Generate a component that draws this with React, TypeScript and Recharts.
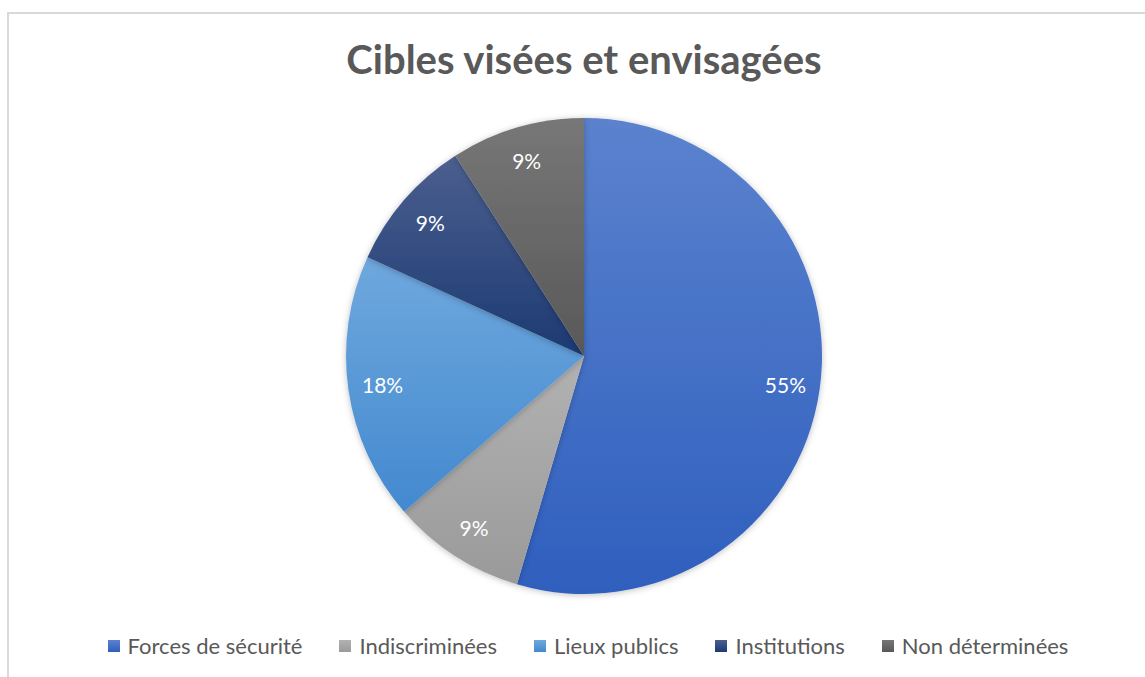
import { PieChart, Pie, Cell } from "recharts";

const categories = ["Forces de sécurité", "Indiscriminées", "Lieux publics", "Institutions", "Non déterminées"];
const counts = [6, 1, 2, 1, 1];
const percentLabels = ["55%", "9%", "18%", "9%", "9%"];

const GRAD = [
  ["#5B82CE", "#2F5FBE"],
  ["#B2B2B2", "#9A9A9A"],
  ["#6FA8DE", "#4389CF"],
  ["#4B5F8F", "#1C3A72"],
  ["#777777", "#585858"],
];

const data = categories.map((name, i) => ({ name, value: counts[i], label: percentLabels[i] }));

const FONT = "Lato, 'Open Sans', sans-serif";
const RAD = Math.PI / 180;

function SliceLabel(props: any) {
  const { cx, cy, midAngle, outerRadius, index } = props;
  const r = outerRadius * 0.855;
  const x = cx + r * Math.cos(-midAngle * RAD);
  const y = cy + r * Math.sin(-midAngle * RAD);
  return (
    <text x={x} y={y} fill="#fff" fontSize={21} fontFamily={FONT} textAnchor="middle" dominantBaseline="central">
      {data[index].label}
    </text>
  );
}

function LegendBox() {
  return (
    <div style={{ display: "flex", justifyContent: "center", gap: 37, fontFamily: FONT, fontSize: 22, color: "#595959" }}>
      {data.map((d, i) => (
        <div key={i} style={{ display: "flex", alignItems: "center", gap: 8 }}>
          <div style={{ width: 12, height: 12, background: `linear-gradient(${GRAD[i][0]}, ${GRAD[i][1]})` }} />
          {d.name}
        </div>
      ))}
    </div>
  );
}

export default function App() {
  return (
    <div style={{ position: "absolute", left: 0, top: 0, width: 1145, height: 677, overflow: "hidden", background: "#fff" }}>
      <div style={{ position: "absolute", left: 7, top: 12, width: 1200, height: 720, border: "2px solid #D9D9D9" }} />
      <div style={{ position: "absolute", left: 0, width: 1168, top: 35, textAlign: "center", fontFamily: FONT, fontWeight: 700, fontSize: 40, color: "#595959" }}>
        Cibles visées et envisagées
      </div>
      <div style={{ position: "absolute", left: 0, top: 0 }}>
        <PieChart width={1168} height={677} margin={{ top: 0, right: 0, bottom: 0, left: 0 }}>
          <defs>
            {GRAD.map((g, i) => (
              <linearGradient key={i} id={`g${i}`} x1="0" y1="0" x2="0" y2="1">
                <stop offset="0%" stopColor={g[0]} />
                <stop offset="100%" stopColor={g[1]} />
              </linearGradient>
            ))}
            <filter id="sh" x="-10%" y="-10%" width="120%" height="120%">
              <feDropShadow dx="0" dy="1" stdDeviation="3" floodColor="#000" floodOpacity="0.25" />
            </filter>
          </defs>
          <Pie
            data={data}
            dataKey="value"
            nameKey="name"
            cx={584}
            cy={356}
            outerRadius={238}
            startAngle={90}
            endAngle={-270}
            stroke="none"
            label={SliceLabel}
            labelLine={false}
            isAnimationActive={false}
            style={{ filter: "url(#sh)" }}
          >
            {data.map((_, i) => (
              <Cell key={i} fill={`url(#g${i})`} />
            ))}
          </Pie>
        </PieChart>
      </div>
      <div style={{ position: "absolute", left: 4, width: 1168, top: 632 }}>
        <LegendBox />
      </div>
    </div>
  );
}
